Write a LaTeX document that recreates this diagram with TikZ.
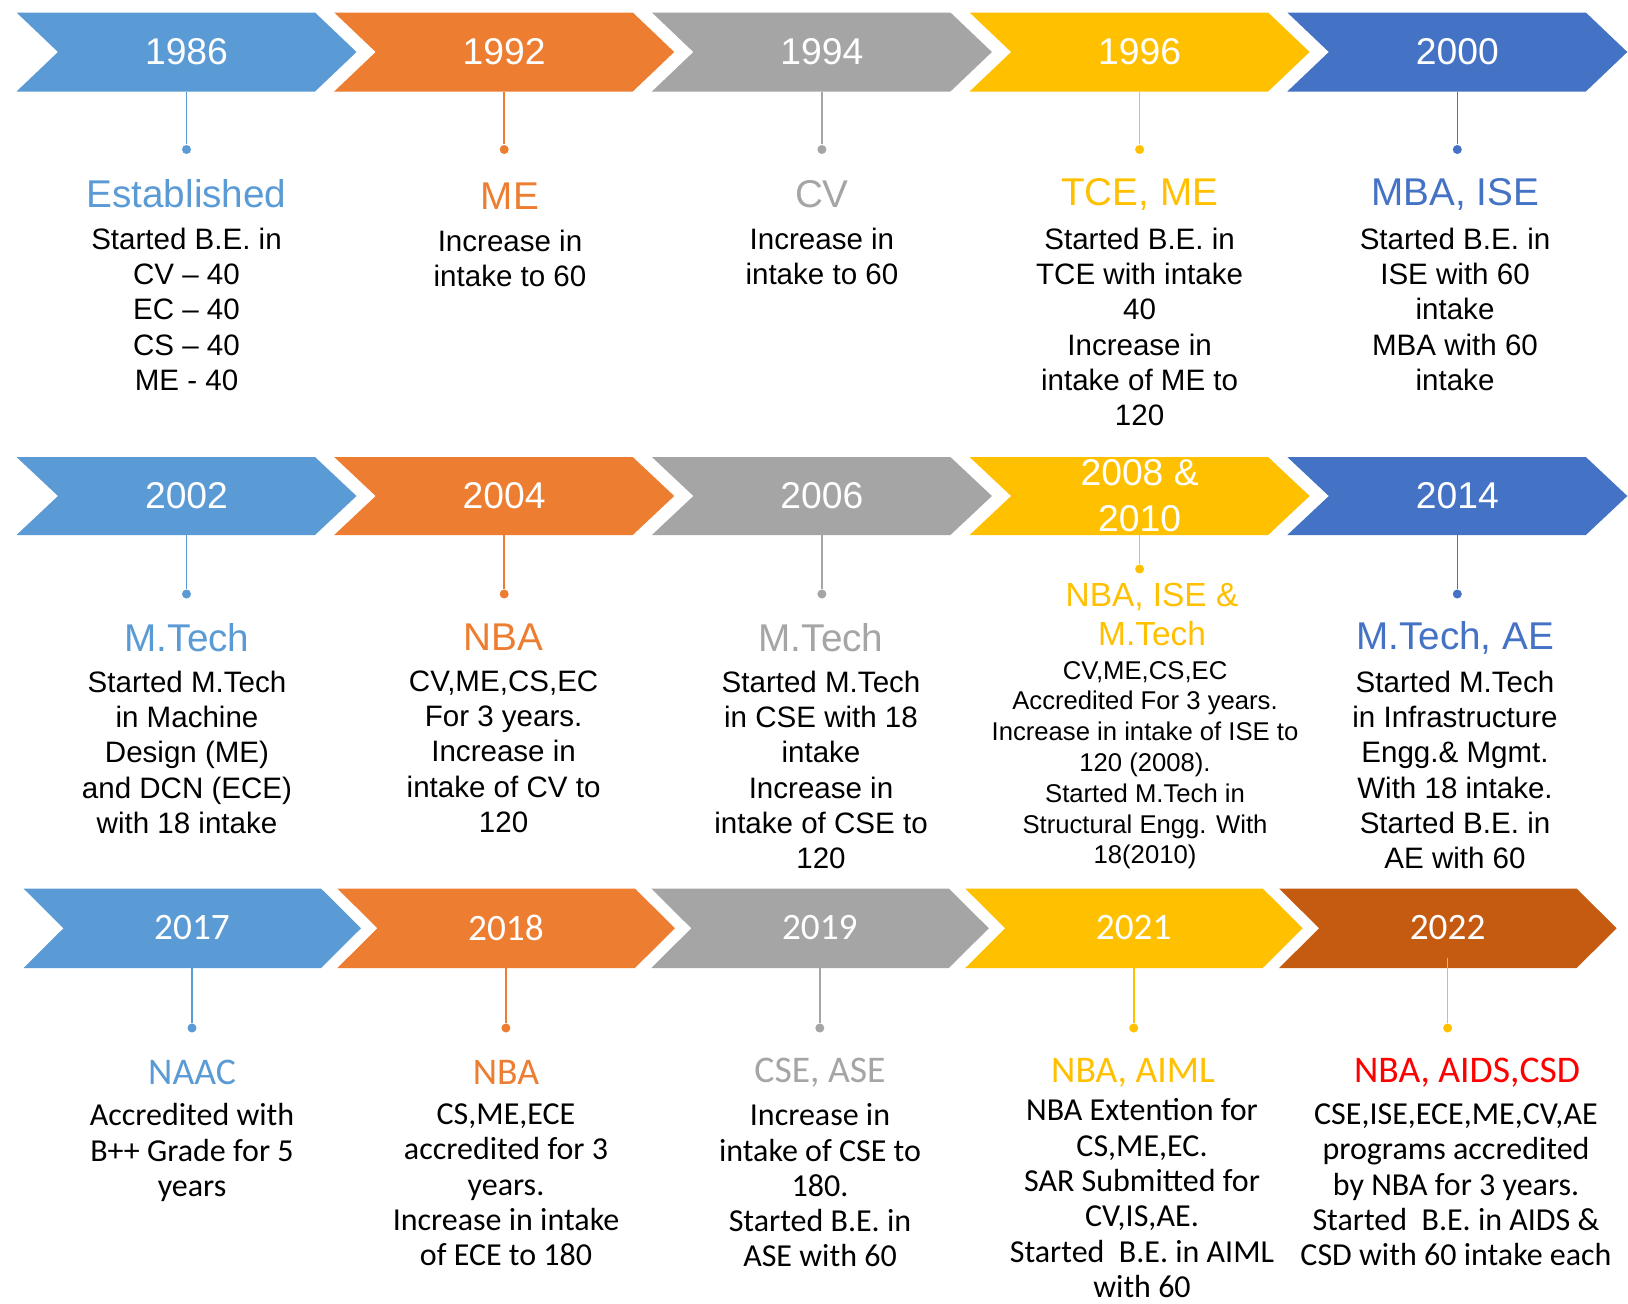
\documentclass[tikz,border=0pt]{standalone}
\usepackage{fontspec}
\setmainfont{Liberation Sans}
\newfontfamily\calfont{Carlito}
\usepackage{tikz}

\definecolor{cblue}{HTML}{5B9BD5}
\definecolor{corange}{HTML}{ED7D31}
\definecolor{cgray}{HTML}{A5A5A5}
\definecolor{cyellow}{HTML}{FFC000}
\definecolor{cdblue}{HTML}{4472C4}
\definecolor{cbrown}{HTML}{C55A11}
\definecolor{cred}{HTML}{FF0000}

% the one year box with two lines
\newcommand\twoyears{2008 \&\\2010}

\tikzset{
  year/.style={text=white,align=center,font=\fontsize{10.6}{13}\selectfont},
  yearc/.style={year,font=\calfont\fontsize{10.6}{13}\selectfont},
  title/.style={align=center,font=\fontsize{11}{11.24}\selectfont},
  titlec/.style={font=\calfont\fontsize{10.7}{12}\selectfont},
  body/.style={anchor=north,align=center,inner sep=0pt,font=\fontsize{8.4}{10.04}\selectfont},
  bodyc/.style={body,font=\calfont\fontsize{9.1}{10.04}\selectfont},
  bodysmall/.style={body,font=\fontsize{7.3}{8.76}\selectfont},
  dot/.style={circle,inner sep=0pt,minimum size=0.9mm},
  link/.style={line width=0.45pt}
}

\begin{document}
\begin{tikzpicture}[x=0.01cm,y=-0.01cm]
        % page size in pixels of the original picture
        \path[fill=white] (0,0) rectangle (1628,1303);

        % first row of chevrons
        \foreach \i/\yr/\col in {0/1986/cblue,1/1992/corange,2/1994/cgray,3/1996/cyellow,4/2000/cdblue}{
            \pgfmathsetmacro\xl{16.5+317.7*\i}
            \pgfmathsetmacro\xm{\xl+170}
            \fill[\col] (\xl,12.5) -- ++(298.5,0) -- ++(41.5,39.5) -- ++(-41.5,39.5)
                        -- ++(-298.5,0) -- ++(41.5,-39.5) -- cycle;
            \node[year] (ya\i) at (\xm,52) {\yr};
            \coordinate (ba\i) at (\xm,91.5);
            \node[dot,fill=\col] (da\i) at (\xm,149.5) {};
            \draw[link,\col] (ba\i) -- (da\i);
        }

        % second row, the 2008 dot sits higher
        \foreach \i/\yr/\col/\dy in {0/2002/cblue/594,1/2004/corange/594,2/2006/cgray/594,3/\twoyears/cyellow/569,4/2014/cdblue/594}{
            \pgfmathsetmacro\xl{16.5+317.7*\i}
            \pgfmathsetmacro\xm{\xl+170}
            \fill[\col] (\xl,457) -- ++(298.5,0) -- ++(41.5,39) -- ++(-41.5,39)
                        -- ++(-298.5,0) -- ++(41.5,-39) -- cycle;
            \node[year] (yb\i) at (\xm,496) {\yr};
            \coordinate (bb\i) at (\xm,535);
            \node[dot,fill=\col] (db\i) at (\xm,\dy) {};
            \draw[link,\col] (bb\i) -- (db\i);
        }

        % third row, line colour is not always the chevron colour
        \foreach \i/\yr/\col/\lc/\ly in {0/2017/cblue/cblue/968,1/2018/corange/corange/968,2/2019/cgray/cgray/968,3/2021/cyellow/cyellow/968,4/2022/cbrown/cyellow/958}{
            \pgfmathsetmacro\xl{23.5+313.9*\i}
            \pgfmathsetmacro\xm{\xl+168.5}
            \fill[\col] (\xl,888.5) -- ++(297.5,0) -- ++(40,39.75) -- ++(-40,39.75)
                        -- ++(-297.5,0) -- ++(40,-39.75) -- cycle;
            \node[yearc] (yc\i) at (\xm,928) {\yr};
            \coordinate (bc\i) at (\xm,\ly);
            \node[dot,fill=\lc] (dc\i) at (\xm,1028) {};
            \draw[link,\lc] (bc\i) -- (dc\i);
        }

        % texts of the first row
        \node[title,text=cblue] (ta0) at (186.5,194) {Established};
        \node[body] (xa0) at (186.5,227) {Started B.E. in\\CV – 40\\EC – 40\\CS – 40\\ME - 40};
        \node[title,text=corange] (ta1) at (510,196) {ME};
        \node[body] (xa1) at (510,229) {Increase in\\intake to 60};
        \node[title,text=cgray] (ta2) at (821.9,194) {CV};
        \node[body] (xa2) at (821.9,227) {Increase in\\intake to 60};
        \node[title,text=cyellow] (ta3) at (1139.6,194) {TCE, ME};
        \node[body] (xa3) at (1139.6,227) {Started B.E. in\\TCE with intake\\40\\Increase in\\intake of ME to\\120};
        \node[title,text=cdblue] (ta4) at (1455,194) {MBA, ISE};
        \node[body] (xa4) at (1455,227) {Started B.E. in\\ISE with 60\\intake\\MBA with 60\\intake};

        % texts of the second row
        \node[title,text=cblue] (tb0) at (187,637.5) {M.Tech};
        \node[body] (xb0) at (187,670) {Started M.Tech\\in Machine\\Design (ME)\\and DCN (ECE)\\with 18 intake};
        \node[title,text=corange] (tb1) at (503.6,637.5) {NBA};
        \node[body] (xb1) at (503.6,670) {CV,ME,CS,EC\\For 3 years.\\Increase in\\intake of CV to\\120};
        \node[title,text=cgray] (tb2) at (821,637.5) {M.Tech};
        \node[body] (xb2) at (821,670) {Started M.Tech\\in CSE with 18\\intake\\Increase in\\intake of CSE to\\120};
        \node[title,anchor=north,inner sep=0pt,text=cyellow,font=\fontsize{9.5}{11.24}\selectfont] (tb3) at (1152,582) {NBA, ISE \&\\M.Tech};
        \node[bodysmall] (xb3) at (1145,660.5) {CV,ME,CS,EC\\Accredited For 3 years.\\Increase in intake of ISE to\\120 (2008).\\Started M.Tech in\\Structural Engg. With\\18(2010)};
        \node[title,text=cdblue] (tb4) at (1455,637.5) {M.Tech, AE};
        \node[body] (xb4) at (1455,670) {Started M.Tech\\in Infrastructure\\Engg.\& Mgmt.\\With 18 intake.\\Started B.E. in\\AE with 60};

        % texts of the third row
        \node[titlec,text=cblue] (tc0) at (192,1072.5) {NAAC};
        \node[bodyc] (xc0) at (192,1103) {Accredited with\\B++ Grade for 5\\years};
        \node[titlec,text=corange] (tc1) at (506,1072.5) {NBA};
        \node[bodyc] (xc1) at (506,1103) {CS,ME,ECE\\accredited for 3\\years.\\Increase in intake\\of ECE to 180};
        \node[titlec,text=cgray] (tc2) at (820,1072.5) {CSE, ASE};
        \node[bodyc] (xc2) at (820,1103) {Increase in\\intake of CSE to\\180.\\Started B.E. in\\ASE with 60};
        \node[titlec,text=cyellow] (tc3) at (1133,1072.5) {NBA, AIML};
        \node[bodyc] (xc3) at (1142,1098) {NBA Extention for\\CS,ME,EC.\\SAR Submitted for\\CV,IS,AE.\\Started~ B.E. in AIML\\with 60};
        \node[titlec,text=cred] (tc4) at (1467,1072.5) {NBA, AIDS,CSD};
        \node[bodyc] (xc4) at (1456,1103) {CSE,ISE,ECE,ME,CV,AE\\programs accredited\\by NBA for 3 years.\\Started~ B.E. in AIDS \&\\CSD with 60 intake each};
\end{tikzpicture}
\end{document}
